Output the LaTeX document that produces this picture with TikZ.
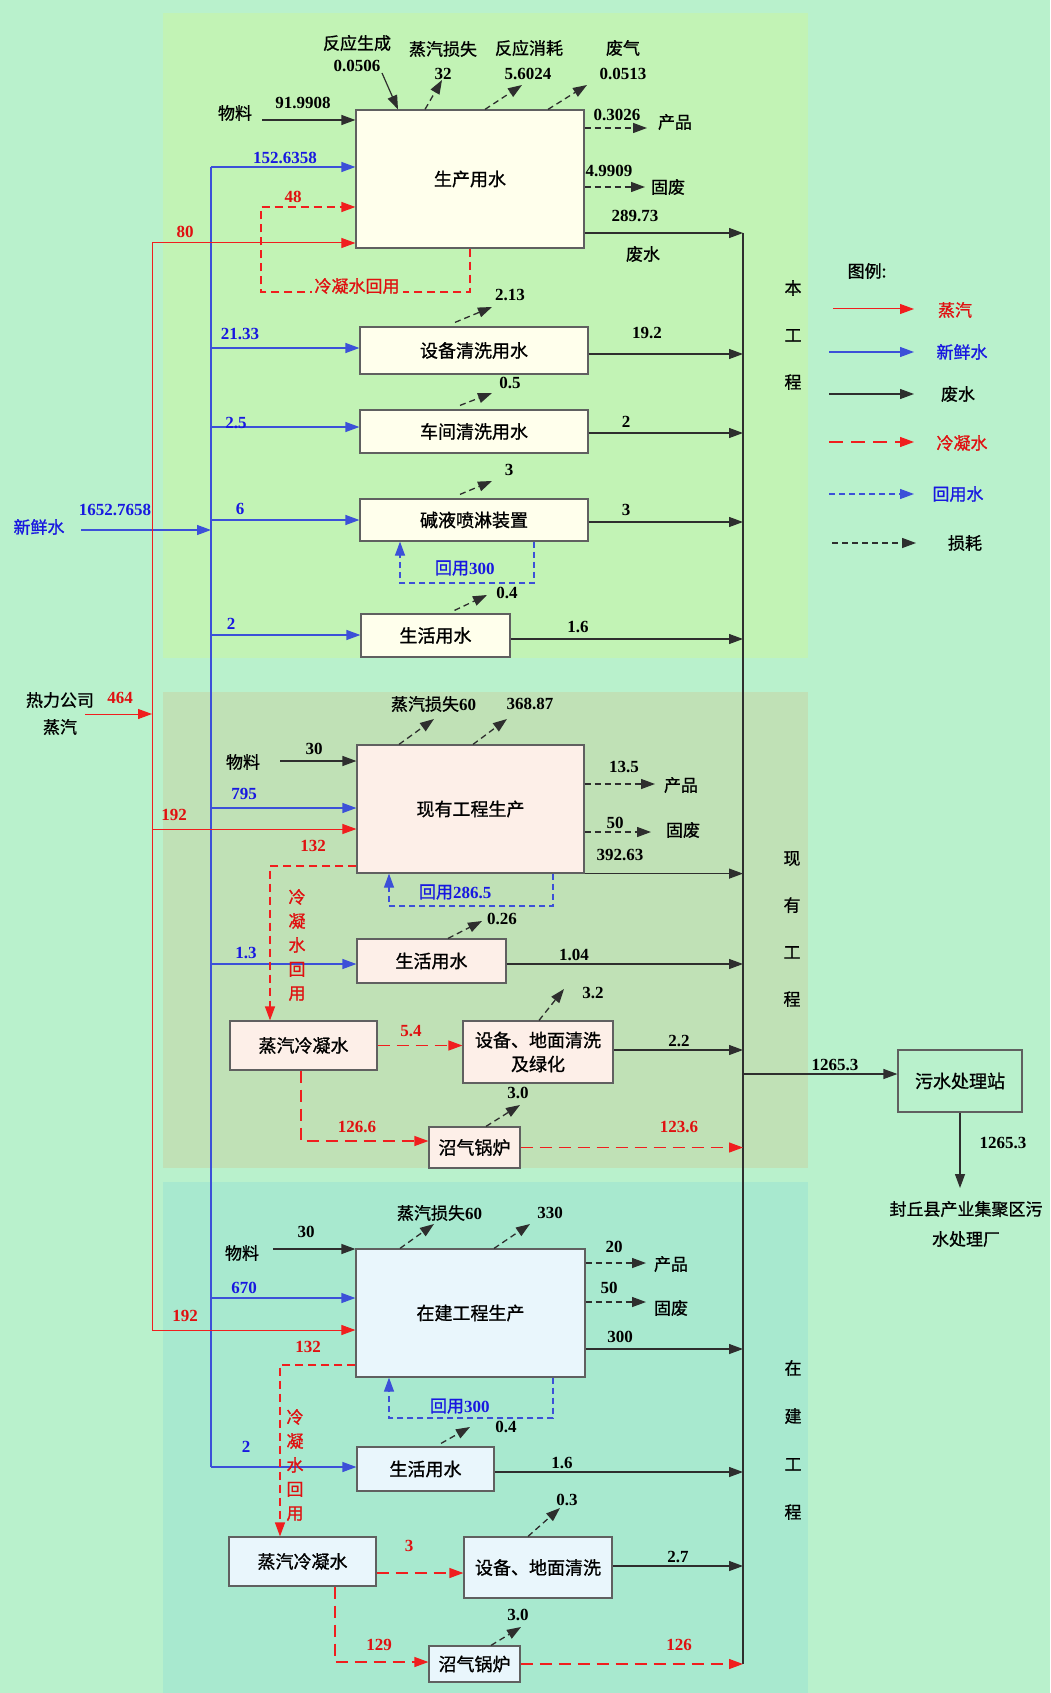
\documentclass[tikz,border=0pt]{standalone}
\usepackage{fontspec}
\setmainfont{Liberation Serif}
\newfontfamily\cjk{Noto Sans CJK SC}[FakeBold=1]
\usetikzlibrary{arrows.meta}
\definecolor{bgc}{HTML}{B9F1CC}
\definecolor{topc}{HTML}{C2F3B5}
\definecolor{midc}{HTML}{C0E1B6}
\definecolor{botc}{HTML}{A8E9CF}
\definecolor{boxa}{HTML}{FFFFEC}
\definecolor{boxb}{HTML}{FDEFE8}
\definecolor{boxc}{HTML}{E9F6FC}
\definecolor{rl}{HTML}{F01E1E}
\definecolor{rt}{HTML}{E01010}
\definecolor{bl}{HTML}{3C50D8}
\definecolor{btx}{HTML}{1818E0}
\definecolor{wl}{HTML}{2E2E2E}
\definecolor{bd}{HTML}{606060}
\tikzset{
 tip/.style={-{Triangle[length=14pt,width=10pt]}},
 steam/.style={tip, draw=rl, line width=1pt},
 fresh/.style={tip, draw=bl, line width=1.2pt},
 waste/.style={tip, draw=wl, line width=1.2pt},
 cond/.style={tip, draw=rl, line width=1.2pt, dash pattern=on 10pt off 6pt},
 reuse/.style={tip, draw=bl, line width=1.2pt, dash pattern=on 6pt off 4pt},
 loss/.style={tip, draw=wl, line width=1.3pt, dash pattern=on 6pt off 4pt},
 bx/.style={draw=bd, line width=1.2pt, inner sep=0pt, align=center, font=\cjk\fontsize{18}{24}\selectfont},
 num/.style={font=\bfseries\fontsize{17}{19}\selectfont, inner sep=0pt, text=black},
 cn/.style={font=\cjk\fontsize{17}{19}\selectfont, inner sep=0pt, text=black},
 red/.style={text=rt},
 blu/.style={text=btx},
}
\begin{document}
\begin{tikzpicture}[x=1pt,y=-1pt]
\fill[bgc] (0,0) rectangle (1050,1693);
\useasboundingbox (0,0) rectangle (1050,1693);
\fill[topc] (163,13) rectangle (808,658);
\fill[midc] (163,692) rectangle (808,1168);
\fill[botc] (163,1182) rectangle (808,1693);

% ---------- boxes ----------
\node[bx, fill=boxa, minimum width=228pt, minimum height=138pt] (p1) at (470,179) {生产用水};
\node[bx, fill=boxa, minimum width=228pt, minimum height=47pt] (sb) at (474,350.5) {设备清洗用水};
\node[bx, fill=boxa, minimum width=228pt, minimum height=43pt] (cj) at (474,431.5) {车间清洗用水};
\node[bx, fill=boxa, minimum width=228pt, minimum height=42pt] (jy) at (474,520) {碱液喷淋装置};
\node[bx, fill=boxa, minimum width=149pt, minimum height=43pt] (sh1) at (435.5,635.5) {生活用水};
\node[bx, fill=boxb, minimum width=227pt, minimum height=128pt] (p2) at (470.5,809) {现有工程生产};
\node[bx, fill=boxb, minimum width=149pt, minimum height=44pt] (sh2) at (431.5,961) {生活用水};
\node[bx, fill=boxb, minimum width=147pt, minimum height=49pt] (nq2) at (303.5,1045.5) {蒸汽冷凝水};
\node[bx, fill=boxb, minimum width=150pt, minimum height=62pt] (qx2) at (538,1052) {设备、地面清洗\\及绿化};
\node[bx, fill=boxb, minimum width=91pt, minimum height=41pt] (zq2) at (474.5,1147.5) {沼气锅炉};
\node[bx, fill=boxc, minimum width=229pt, minimum height=128pt] (p3) at (470.5,1313) {在建工程生产};
\node[bx, fill=boxc, minimum width=137pt, minimum height=44pt] (sh3) at (425.5,1469) {生活用水};
\node[bx, fill=boxc, minimum width=147pt, minimum height=49pt] (nq3) at (302.5,1561.5) {蒸汽冷凝水};
\node[bx, fill=boxc, minimum width=148pt, minimum height=61pt] (qx3) at (538,1567.5) {设备、地面清洗};
\node[bx, fill=boxc, minimum width=91pt, minimum height=36pt] (zq3) at (474.5,1664) {沼气锅炉};
\node[bx, minimum width=124pt, minimum height=62pt] (ws) at (960,1081) {污水处理站};

% ---------- fresh water ----------
\coordinate (bT) at (211,167);
\coordinate (bB) at (211,1467);
\draw[draw=bl, line width=1.2pt] (bT) -- (bB);
\coordinate (fwS) at (81,530);
\coordinate (fwE) at (211,530);
\draw[fresh] (fwS) -- (fwE);
\draw[fresh] (bT) -- (bT -| p1.west);
\coordinate (b2) at (211,348); \draw[fresh] (b2) -- (b2 -| sb.west);
\coordinate (b3) at (211,427); \draw[fresh] (b3) -- (b3 -| cj.west);
\coordinate (b4) at (211,520); \draw[fresh] (b4) -- (b4 -| jy.west);
\coordinate (b5) at (211,635); \draw[fresh] (b5) -- (b5 -| sh1.west);
\coordinate (b6) at (211,808); \draw[fresh] (b6) -- (b6 -| p2.west);
\coordinate (b7) at (211,964); \draw[fresh] (b7) -- (b7 -| sh2.west);
\coordinate (b8) at (211,1298); \draw[fresh] (b8) -- (b8 -| p3.west);
\draw[fresh] (bB) -- (bB -| sh3.west);

% ---------- steam ----------
\coordinate (rT) at (152,243);
\coordinate (rB) at (152,1330);
\draw[draw=rl, line width=1pt] (rT) -- (rB);
\coordinate (stS) at (85,714);
\coordinate (stE) at (152,714);
\draw[steam] (stS) -- (stE);
\draw[steam] (rT) -- (rT -| p1.west);
\coordinate (r2) at (152,829); \draw[steam] (r2) -- (r2 -| p2.west);
\draw[steam] (rB) -- (rB -| p3.west);

% ---------- waste trunk ----------
\coordinate (wT) at (743,233);
\coordinate (wB) at (743,1664);
\coordinate (wJ) at (743,1074);
\draw[draw=wl, line width=1.2pt] (wT) -- (wB);
\draw[waste] (p1.east |- wT) -- (wT);
\coordinate (w2) at (743,354); \draw[waste] (sb.east |- w2) -- (w2);
\coordinate (w3) at (743,433); \draw[waste] (cj.east |- w3) -- (w3);
\coordinate (w4) at (743,522); \draw[waste] (jy.east |- w4) -- (w4);
\coordinate (w5) at (743,639); \draw[waste] (sh1.east |- w5) -- (w5);
\draw[waste] (p2.south east) -- (p2.south east -| wT);
\coordinate (w7) at (743,964); \draw[waste] (sh2.east |- w7) -- (w7);
\coordinate (w8) at (743,1050); \draw[waste] (qx2.east |- w8) -- (w8);
\draw[cond, dash pattern=on 12pt off 7pt] (zq2.east) -- (zq2.east -| wT);
\coordinate (w9) at (743,1349); \draw[waste] (p3.east |- w9) -- (w9);
\coordinate (w10) at (743,1472); \draw[waste] (sh3.east |- w10) -- (w10);
\coordinate (w11) at (743,1566); \draw[waste] (qx3.east |- w11) -- (w11);
\draw[cond, dash pattern=on 12pt off 7pt] (zq3.east) -- (zq3.east -| wT);
\draw[waste] (wJ) -- (wJ -| ws.west);
\coordinate (outE) at (960,1188);
\draw[waste] (ws.south) -- (outE);

% ---------- material in ----------
\coordinate (m1) at (262,120); \draw[waste] (m1) -- (m1 -| p1.west);
\coordinate (m2) at (280,761); \draw[waste] (m2) -- (m2 -| p2.west);
\coordinate (m3) at (273,1249); \draw[waste] (m3) -- (m3 -| p3.west);

% ---------- condensate loops ----------
\coordinate (l1a) at (470,292);
\coordinate (l1b) at (261,292);
\coordinate (l1c) at (261,207);
\draw[cond, dash pattern=on 8pt off 5pt] (p1.south) -- (l1a) -- (l1b) -- (l1c) -- (l1c -| p1.west);
\coordinate (k1) at (270,866);
\draw[cond, dash pattern=on 8pt off 5pt] (p2.west |- k1) -- (k1) -- (k1 |- nq2.north);
\coordinate (k2) at (280,1365);
\draw[cond, dash pattern=on 8pt off 5pt] (p3.west |- k2) -- (k2) -- (k2 |- nq3.north);
\coordinate (k3) at (301,1141);
\draw[cond, dash pattern=on 12pt off 7pt] (nq2.south -| k3) -- (k3) -- (k3 -| zq2.west);
\coordinate (k4) at (335,1662);
\draw[cond, dash pattern=on 12pt off 7pt] (nq3.south -| k4) -- (k4) -- (k4 -| zq3.west);
\draw[cond, dash pattern=on 12pt off 7pt] (nq2.east) -- (nq2.east -| qx2.west);
\coordinate (k5) at (376,1573);
\draw[cond, dash pattern=on 12pt off 7pt] (nq3.east |- k5) -- (k5 -| qx3.west);

% ---------- reuse loops ----------
\coordinate (j1) at (534,583); \coordinate (j2) at (400,583);
\draw[reuse] (jy.south -| j1) -- (j1) -- (j2) -- (j2 |- jy.south);
\coordinate (j3) at (553,906); \coordinate (j4) at (389,906);
\draw[reuse] (p2.south -| j3) -- (j3) -- (j4) -- (j4 |- p2.south);
\coordinate (j5) at (553,1418); \coordinate (j6) at (389,1418);
\draw[reuse] (p3.south -| j5) -- (j5) -- (j6) -- (j6 |- p3.south);

% ---------- losses ----------
\coordinate (rsS) at (382,73);
\draw[waste] (rsS) -- ([xshift=-72pt]p1.north);
\coordinate (e1) at (442,80); \draw[loss] ([xshift=-45pt]p1.north) -- (e1);
\coordinate (e2) at (522,85); \draw[loss] ([xshift=15pt]p1.north) -- (e2);
\coordinate (e3) at (587,85); \draw[loss] ([xshift=78pt]p1.north) -- (e3);
\coordinate (o1) at (647,128); \draw[loss] (p1.east |- o1) -- (o1);
\coordinate (o2) at (645,187); \draw[loss] (p1.east |- o2) -- (o2);
\coordinate (e4) at (492,307); \draw[loss] ([xshift=-19pt,yshift=4pt]sb.north) -- (e4);
\coordinate (e5) at (492,393); \draw[loss] ([xshift=-14pt,yshift=4pt]cj.north) -- (e5);
\coordinate (e6) at (492,481); \draw[loss] ([xshift=-14pt,yshift=4pt]jy.north) -- (e6);
\coordinate (e7) at (487,595); \draw[loss] ([xshift=19pt,yshift=3pt]sh1.north) -- (e7);
\coordinate (e8) at (434,719); \draw[loss] ([xshift=-71.5pt]p2.north) -- (e8);
\coordinate (e9) at (507,719); \draw[loss] ([xshift=2.5pt]p2.north) -- (e9);
\coordinate (o3) at (655,784); \draw[loss] (p2.east |- o3) -- (o3);
\coordinate (o4) at (651,832); \draw[loss] (p2.east |- o4) -- (o4);
\coordinate (e10) at (482,921); \draw[loss] ([xshift=16.5pt]sh2.north) -- (e10);
\coordinate (e11) at (564,989); \draw[loss] ([xshift=1pt]qx2.north) -- (e11);
\coordinate (e12) at (520,1105); \draw[loss] ([xshift=11.5pt]zq2.north) -- (e12);
\coordinate (e13) at (434,1224); \draw[loss] ([xshift=-70.5pt]p3.north) -- (e13);
\coordinate (e14) at (530,1224); \draw[loss] ([xshift=23.5pt]p3.north) -- (e14);
\coordinate (o5) at (646,1263); \draw[loss] (p3.east |- o5) -- (o5);
\coordinate (o6) at (646,1302); \draw[loss] (p3.east |- o6) -- (o6);
\coordinate (e15) at (470,1427); \draw[loss] ([xshift=15.5pt,yshift=3pt]sh3.north) -- (e15);
\coordinate (e16) at (560,1508); \draw[loss] ([xshift=-10pt]qx3.north) -- (e16);
\coordinate (e17) at (521,1627); \draw[loss] ([xshift=16.5pt]zq3.north) -- (e17);

% ---------- labels: top ----------
\node[cn] (t1) at (357,43) {反应生成};
\node[num] (t2) at (357,66) {0.0506};
\node[cn] (t3) at (443,49) {蒸汽损失};
\node[num] (t4) at (443,74) {32};
\node[cn] (t5) at (529,48) {反应消耗};
\node[num] (t6) at (528,74) {5.6024};
\node[cn] (t7) at (623,48) {废气};
\node[num] (t8) at (623,74) {0.0513};
\node[cn] (t9) at (235,113) {物料};
\node[num] (t10) at (303,103) {91.9908};
\node[num, blu] (t11) at (285,158) {152.6358};
\node[num, red] (t12) at (293,197) {48};
\node[num, red] (t13) at (185,232) {80};
\node[cn, text=rt, fill=topc, inner xsep=3pt] (t14) at (357,286) {冷凝水回用};
\node[num] (t15) at (617,115) {0.3026};
\node[cn] (t16) at (675,122) {产品};
\node[num] (t17) at (609,171) {4.9909};
\node[cn] (t18) at (668,187) {固废};
\node[num] (t19) at (635,216) {289.73};
\node[cn] (t20) at (643,254) {废水};
\node[num] (t21) at (510,295) {2.13};
\node[num] (t22) at (647,333) {19.2};
\node[num] (t23) at (510,383) {0.5};
\node[num] (t24) at (626,422) {2};
\node[num] (t25) at (509,470) {3};
\node[num] (t26) at (626,510) {3};
\node[num] (t27) at (507,593) {0.4};
\node[num] (t28) at (578,627) {1.6};
\node[num, blu] (t29) at (240,334) {21.33};
\node[num, blu] (t30) at (236,423) {2.5};
\node[num, blu] (t31) at (240,509) {6};
\node[num, blu] (t32) at (231,624) {2};
\node[cn, blu] (t33) at (452,568) {回用};
\node[num, blu, anchor=west] (t34) at (469,569) {300};
\node[num, blu] (t35) at (115,510) {1652.7658};
\node[cn, blu] (t36) at (39,527) {新鲜水};
\node[cn, align=center, font=\cjk\fontsize{17}{47}\selectfont] (t37) at (793,335) {本\\工\\程};
\node[cn] (t38) at (60,700) {热力公司};
\node[cn] (t39) at (60,727) {蒸汽};
\node[num, red] (t40) at (120,698) {464};

% ---------- labels: middle ----------
\node[cn] (u1) at (425,704) {蒸汽损失};
\node[num, anchor=west] (u2) at (459,705) {60};
\node[num] (u3) at (530,704) {368.87};
\node[cn] (u4) at (243,762) {物料};
\node[num] (u5) at (314,749) {30};
\node[num, blu] (u6) at (244,794) {795};
\node[num, red] (u7) at (174,815) {192};
\node[num, red] (u8) at (313,846) {132};
\node[num] (u9) at (624,767) {13.5};
\node[cn] (u10) at (681,785) {产品};
\node[num] (u11) at (615,823) {50};
\node[cn] (u12) at (683,830) {固废};
\node[num] (u13) at (620,855) {392.63};
\node[cn, blu] (u14) at (436,892) {回用};
\node[num, blu, anchor=west] (u15) at (453,893) {286.5};
\node[cn, text=rt, align=center, font=\cjk\fontsize{17}{24}\selectfont] (u16) at (297,945) {冷\\凝\\水\\回\\用};
\node[num] (u17) at (502,919) {0.26};
\node[num, blu] (u18) at (246,953) {1.3};
\node[num] (u19) at (574,955) {1.04};
\node[num, red] (u20) at (411,1031) {5.4};
\node[num] (u21) at (593,993) {3.2};
\node[num] (u22) at (679,1041) {2.2};
\node[num] (u23) at (518,1093) {3.0};
\node[num, red] (u24) at (357,1127) {126.6};
\node[num, red] (u25) at (679,1127) {123.6};
\node[cn, align=center, font=\cjk\fontsize{17}{47}\selectfont] (u26) at (792,929) {现\\有\\工\\程};
\node[num] (u27) at (835,1065) {1265.3};
\node[num] (u28) at (1003,1143) {1265.3};
\node[cn] (u29) at (966,1209) {封丘县产业集聚区污};
\node[cn] (u30) at (966,1239) {水处理厂};

% ---------- labels: bottom ----------
\node[cn] (v1) at (431,1213) {蒸汽损失};
\node[num, anchor=west] (v2) at (465,1214) {60};
\node[num] (v3) at (550,1213) {330};
\node[cn] (v4) at (242,1253) {物料};
\node[num] (v5) at (306,1232) {30};
\node[num, blu] (v6) at (244,1288) {670};
\node[num, red] (v7) at (185,1316) {192};
\node[num, red] (v8) at (308,1347) {132};
\node[num] (v9) at (614,1247) {20};
\node[cn] (v10) at (671,1264) {产品};
\node[num] (v11) at (609,1288) {50};
\node[cn] (v12) at (671,1308) {固废};
\node[num] (v13) at (620,1337) {300};
\node[cn, blu] (v14) at (447,1406) {回用};
\node[num, blu, anchor=west] (v15) at (464,1407) {300};
\node[num] (v16) at (506,1427) {0.4};
\node[num, blu] (v17) at (246,1447) {2};
\node[num] (v18) at (562,1463) {1.6};
\node[cn, text=rt, align=center, font=\cjk\fontsize{17}{24}\selectfont] (v19) at (295,1465) {冷\\凝\\水\\回\\用};
\node[num, red] (v20) at (409,1546) {3};
\node[num] (v21) at (567,1500) {0.3};
\node[num] (v22) at (678,1557) {2.7};
\node[num] (v23) at (518,1615) {3.0};
\node[num, red] (v24) at (379,1645) {129};
\node[num, red] (v25) at (679,1645) {126};
\node[cn, align=center, font=\cjk\fontsize{17}{48}\selectfont] (v26) at (793,1440) {在\\建\\工\\程};

% ---------- legend ----------
\node[cn] (g0) at (867,271) {图例:};
\coordinate (g1s) at (833,309); \coordinate (g1e) at (914,309);
\draw[steam] (g1s) -- (g1e);
\node[cn, text=rt] (g1) at (955,310) {蒸汽};
\coordinate (g2s) at (829,352); \coordinate (g2e) at (914,352);
\draw[fresh] (g2s) -- (g2e);
\node[cn, blu] (g2) at (962,352) {新鲜水};
\coordinate (g3s) at (829,394); \coordinate (g3e) at (914,394);
\draw[waste] (g3s) -- (g3e);
\node[cn] (g3) at (958,394) {废水};
\coordinate (g4s) at (829,442); \coordinate (g4e) at (914,442);
\draw[cond, dash pattern=on 14pt off 8pt] (g4s) -- (g4e);
\node[cn, text=rt] (g4) at (962,443) {冷凝水};
\coordinate (g5s) at (829,494); \coordinate (g5e) at (914,494);
\draw[reuse] (g5s) -- (g5e);
\node[cn, blu] (g5) at (958,494) {回用水};
\coordinate (g6s) at (832,543); \coordinate (g6e) at (916,543);
\draw[loss] (g6s) -- (g6e);
\node[cn] (g6) at (965,543) {损耗};
\end{tikzpicture}
\end{document}
